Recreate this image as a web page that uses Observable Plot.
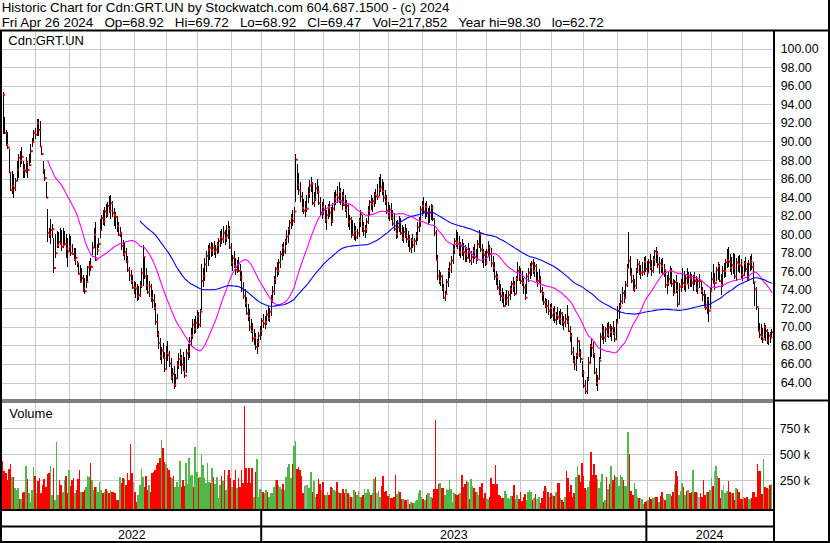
<!DOCTYPE html>
<html><head><meta charset="utf-8">
<script src="https://cdn.jsdelivr.net/npm/d3@7"></script>
<script src="https://cdn.jsdelivr.net/npm/@observablehq/plot@0.6"></script>
<style>
html,body{margin:0;padding:0;background:#fff;}
#wrap{position:relative;width:830px;height:543px;overflow:hidden;background:#fff;}
#wrap > div.p{position:absolute;left:0;}
#wrap svg{display:block;}
#ov{position:absolute;left:0;top:0;pointer-events:none;}
</style></head><body>
<div id="wrap">
  <div class="p" id="price" style="top:31.5px"></div>
  <div class="p" id="volume" style="top:402px"></div>
  <div class="p" id="years" style="top:511px"></div>
</div>
<script>
// ---------- data (daily bars, May 2 2022 – Apr 26 2024) ----------
const title1 = "Historic Chart for Cdn:GRT.UN by Stockwatch.com 604.687.1500 - (c) 2024";
const title2 = "Fri Apr 26 2024   Op=68.92   Hi=69.72   Lo=68.92   Cl=69.47   Vol=217,852   Year hi=98.30   lo=62.72";
const symbolLabel = "Cdn:GRT.UN";
const volumeLabel = "Volume";
const startDate = "2022-05-02";
const endDate = "2024-04-26";
const holidays = ["2022-05-23","2022-07-01","2022-08-01","2022-09-05","2022-10-10","2022-12-26","2022-12-27",
  "2023-01-02","2023-02-20","2023-04-07","2023-05-22","2023-07-03","2023-08-07","2023-09-04","2023-10-09",
  "2023-12-25","2023-12-26","2024-01-01","2024-02-19","2024-03-29"];
const priceTicks = [64,66,68,70,72,74,76,78,80,82,84,86,88,90,92,94,96,98,100];
const volTicks = [250000,500000,750000];

const hi = [95.3,92.6,91.2,91.0,89.2,86.7,86.8,86.5,86.1,87.9,
88.6,89.0,89.4,87.9,87.6,88.3,87.9,88.6,89.7,90.4,
91.2,91.5,92.4,92.4,92.2,89.5,87.9,87.0,85.6,82.7,
80.7,81.6,81.1,79.6,80.0,80.3,80.2,80.7,80.5,80.7,
80.3,80.0,79.6,80.0,79.8,78.9,78.5,78.5,77.1,76.9,
76.7,76.4,75.6,75.3,75.6,76.6,77.1,77.4,79.2,80.7,
81.3,78.9,79.6,81.6,82.1,82.6,82.9,83.3,83.5,84.1,
84.2,83.6,82.8,82.4,82.0,81.3,80.8,80.0,79.4,79.2,
78.5,77.6,76.5,76.1,75.6,75.0,74.8,74.6,74.4,74.9,
76.3,78.8,77.5,76.3,75.6,74.9,74.6,74.0,73.5,72.6,
71.4,69.6,68.8,67.8,68.3,67.3,67.9,68.5,67.4,66.6,
65.6,65.8,64.9,66.3,67.2,67.6,67.0,67.3,66.8,67.6,
68.2,68.9,69.9,70.8,70.9,71.2,71.8,71.6,71.9,76.8,
76.4,77.4,78.2,78.8,79.1,79.2,79.0,79.3,78.8,79.2,
79.6,80.3,80.6,80.9,80.5,81.0,81.4,80.9,79.0,77.8,
78.2,77.4,77.2,77.5,76.8,76.0,74.8,74.1,73.2,72.5,
71.9,70.8,70.4,69.8,69.3,68.7,69.5,70.1,71.0,71.4,
71.2,71.8,72.3,72.0,73.4,74.4,75.5,76.5,77.0,77.3,
78.2,78.9,79.2,79.5,80.4,80.8,81.5,82.2,82.6,82.9,
88.7,87.6,86.6,85.6,84.6,83.8,83.6,84.2,85.1,85.8,
86.2,85.6,84.5,85.5,86.0,85.2,84.0,83.5,83.8,83.2,
82.6,83.3,83.6,82.9,83.4,84.5,84.8,85.2,85.6,85.0,
84.6,84.9,84.2,83.7,83.3,82.1,81.9,81.5,81.2,80.9,
80.6,81.8,82.6,82.1,81.3,81.0,81.8,83.0,83.7,84.2,
83.9,84.6,84.9,85.4,86.2,86.5,86.0,85.6,84.8,84.2,
83.5,83.1,83.4,82.6,82.3,81.4,81.5,82.0,81.8,81.0,
80.8,81.1,80.7,80.3,79.9,79.6,80.0,79.6,80.2,81.3,
81.9,83.0,83.6,84.0,83.4,83.6,82.8,83.0,83.3,83.1,
81.5,80.4,77.8,76.1,75.9,75.6,74.6,73.9,75.2,76.3,
77.0,77.6,78.8,79.6,80.4,80.2,79.8,79.2,79.5,79.0,
78.8,78.6,79.0,78.5,78.2,78.6,78.9,78.4,79.4,80.4,
80.1,78.9,78.4,78.2,78.4,79.3,78.8,78.5,77.6,77.0,
76.0,75.7,75.1,74.6,74.2,73.8,73.6,74.0,73.9,74.4,
75.0,75.4,75.0,75.5,77.0,76.6,76.4,76.0,75.3,74.6,
75.8,76.4,76.9,77.1,77.3,77.0,76.8,75.9,76.2,75.5,
74.3,73.8,73.1,73.0,72.9,72.5,72.6,72.0,72.2,71.6,
72.1,71.7,71.9,71.6,71.2,71.4,72.4,71.2,70.1,69.3,
67.8,66.9,67.2,68.9,68.6,67.6,66.3,65.4,64.3,64.6,
66.8,68.2,68.7,68.4,67.2,65.6,64.8,66.7,69.3,70.3,
70.1,70.0,70.4,70.5,70.3,70.1,70.6,70.0,70.8,72.2,
72.6,73.5,74.3,74.0,75.0,76.8,80.2,77.6,76.4,75.6,
75.2,76.4,77.3,77.1,76.7,77.0,77.5,77.6,77.1,77.3,
77.9,77.2,77.6,78.3,78.6,78.2,77.5,77.3,77.4,76.8,
76.2,75.6,75.9,76.6,76.4,75.2,75.1,75.6,74.8,74.7,
75.2,76.3,76.0,75.7,76.4,75.9,75.9,75.7,75.6,75.9,
75.5,75.2,75.7,75.1,74.3,74.0,73.6,73.2,73.2,74.3,
75.9,76.8,75.8,76.5,77.0,76.8,75.7,76.6,76.9,77.3,
78.4,78.6,77.9,77.5,78.0,77.9,77.4,77.6,77.8,77.3,
76.6,77.1,77.5,76.9,77.2,77.7,77.9,77.0,75.0,74.3,
72.0,70.4,70.3,69.9,70.4,70.2,69.8,69.5,69.4,69.72];

const lo = [90.8,90.8,89.5,89.2,86.6,84.7,84.3,83.9,84.7,85.7,
86.1,87.2,87.6,86.1,86.1,86.6,86.1,87.4,87.7,89.4,
90.1,90.3,90.6,90.6,89.4,88.5,86.5,85.7,83.9,79.2,
79.6,78.9,79.6,75.8,77.4,78.5,78.5,78.8,78.2,78.5,
78.9,77.4,76.5,78.2,77.6,77.8,77.1,76.7,76.5,75.6,
74.7,74.9,73.8,73.5,74.2,74.9,75.5,76.0,77.8,78.5,
77.1,77.8,78.5,79.6,80.3,81.0,80.9,81.8,81.9,82.3,
81.6,81.9,80.9,80.6,80.2,79.8,79.7,78.3,77.6,77.2,
76.9,75.9,75.0,74.6,74.1,73.5,73.1,72.8,72.9,73.2,
74.2,74.4,75.2,74.0,73.5,73.2,72.7,72.0,71.8,70.2,
68.9,67.6,66.4,66.0,66.5,65.1,65.4,66.3,65.7,64.3,
63.9,63.3,63.5,64.4,65.5,65.8,64.9,65.2,64.5,65.0,
66.4,66.6,67.9,68.7,69.2,69.3,69.8,69.9,70.0,71.8,
74.3,74.9,75.9,76.6,77.2,77.5,77.6,77.8,77.4,77.9,
78.0,78.6,78.9,79.0,78.8,79.2,79.5,78.4,76.6,76.0,
76.3,75.6,75.8,75.9,75.0,73.8,73.0,72.1,71.3,70.6,
69.6,69.3,68.4,68.0,67.5,67.1,67.8,68.6,69.0,69.9,
69.8,70.2,70.6,70.5,71.2,72.6,73.4,74.6,75.4,75.6,
76.4,77.2,77.6,77.9,78.8,79.1,79.9,80.6,80.9,81.2,
83.5,84.8,84.2,83.5,82.4,82.2,81.9,82.4,83.4,83.9,
84.5,83.2,82.9,83.6,84.3,83.1,82.0,81.6,82.1,81.2,
80.5,81.6,81.9,80.9,81.2,82.5,83.1,83.4,83.4,83.2,
82.6,83.0,82.4,81.8,80.8,80.5,79.6,79.8,79.4,79.3,
79.5,79.7,80.8,80.2,79.8,79.6,80.1,81.1,82.0,82.6,
82.4,82.9,83.3,83.7,84.1,84.6,84.2,83.5,83.2,82.2,
81.6,81.4,81.5,80.9,80.3,79.5,79.6,80.2,79.9,79.3,
79.0,79.6,79.0,78.6,78.1,78.0,78.5,78.1,78.8,79.3,
80.2,80.8,82.0,82.2,81.6,81.9,81.0,81.2,81.5,81.4,
79.8,77.1,75.1,74.6,74.4,73.9,73.0,72.8,73.4,74.3,
75.3,75.8,76.8,77.9,78.6,78.4,77.7,77.4,77.7,77.2,
77.0,77.0,77.3,76.9,76.7,76.9,77.3,76.8,77.1,78.5,
78.1,76.9,76.4,76.6,76.7,77.5,77.1,76.5,75.9,75.1,
74.5,74.0,73.4,72.8,72.6,72.1,72.1,72.4,72.3,72.9,
73.5,73.8,73.3,73.5,75.0,75.0,74.6,74.4,73.6,72.9,
73.5,74.8,75.2,75.5,75.7,75.4,74.8,74.3,74.7,73.7,
72.8,72.4,72.0,71.5,71.3,70.9,71.0,70.6,70.4,70.2,
70.7,70.3,70.2,70.1,69.7,70.0,70.3,69.4,68.4,67.0,
66.1,65.3,65.2,66.5,66.7,66.1,64.6,63.4,62.8,62.72,
64.2,66.0,66.8,66.6,64.9,63.6,63.1,64.3,66.5,68.6,
68.2,68.4,68.9,68.8,68.9,68.5,69.1,68.4,68.6,70.4,
70.9,71.9,72.5,72.6,73.0,74.3,76.4,75.5,74.7,73.9,
73.8,74.1,75.8,75.6,75.2,75.5,75.6,75.9,75.4,75.8,
76.1,75.5,75.8,76.6,76.9,76.4,75.7,75.8,75.7,75.4,
74.2,73.6,74.4,74.6,74.3,73.3,73.5,73.7,72.1,72.4,
73.8,74.2,74.0,73.8,74.6,74.1,74.3,74.3,73.9,74.5,
73.8,73.6,74.2,73.5,72.8,72.0,71.8,71.4,70.5,71.9,
73.8,74.6,74.0,74.9,75.1,74.8,73.4,74.3,75.3,75.4,
76.3,76.5,75.9,75.6,75.7,75.2,75.0,75.9,75.8,75.3,
75.0,75.5,75.9,74.9,75.1,76.0,76.1,74.6,72.2,71.8,
69.4,68.8,68.6,68.3,68.8,68.5,68.2,68.0,68.3,68.92];

const cl = [95.1,91.0,89.7,89.4,86.7,84.8,85.3,85.0,85.8,87.0,
88.3,88.0,88.4,87.0,86.9,87.8,87.0,87.5,89.0,90.0,
91.0,90.8,92.0,91.3,89.5,88.7,87.0,86.1,84.0,80.2,
80.0,80.5,80.6,76.4,78.0,78.9,79.2,79.0,78.7,78.9,
79.0,78.5,78.2,78.7,78.0,77.9,77.3,77.5,76.9,75.8,
74.9,75.3,74.2,73.9,74.9,76.5,76.7,76.5,78.6,80.0,
77.3,78.3,79.0,80.5,81.8,81.4,82.5,82.2,83.1,82.6,
83.4,82.3,82.1,81.9,80.9,80.0,80.2,78.8,77.9,78.1,
77.1,76.2,75.6,75.0,74.3,74.3,74.2,73.4,73.5,74.5,
75.9,77.6,75.5,74.6,73.8,74.4,73.2,72.9,72.1,70.6,
69.3,68.3,66.9,67.5,66.7,65.5,67.2,67.0,66.1,64.6,
65.0,63.8,64.5,65.9,66.6,66.7,66.0,65.3,64.8,67.2,
67.4,68.5,69.1,70.3,69.8,70.5,71.2,70.3,71.7,75.0,
75.5,76.8,77.7,78.4,78.6,78.3,78.6,78.2,78.4,78.9,
79.3,79.7,79.5,80.2,79.6,79.9,80.6,78.6,77.0,77.5,
76.6,76.2,76.8,76.1,75.4,74.2,73.4,72.6,71.5,71.2,
70.0,69.6,68.8,68.9,67.9,68.4,69.1,69.6,70.7,70.4,
70.6,71.4,71.0,71.7,73.0,73.9,75.2,76.3,76.1,77.0,
77.9,78.6,78.2,79.3,79.8,80.6,81.3,81.8,81.5,82.5,
88.1,85.4,84.8,84.1,82.9,82.6,82.8,82.8,84.4,85.3,
85.5,83.4,83.8,85.0,84.6,83.4,82.4,83.0,82.7,81.6,
82.1,82.9,82.4,81.5,82.8,83.8,84.3,84.0,84.6,83.6,
84.2,83.2,82.7,83.1,81.4,81.7,80.0,80.0,80.4,79.7,
80.2,81.5,82.2,80.9,80.4,80.6,81.4,82.6,83.5,83.3,
83.6,84.3,84.1,84.1,84.9,85.1,84.7,84.0,83.6,82.6,
82.0,82.7,81.8,81.2,80.6,80.1,80.8,81.3,80.2,79.6,
80.3,79.9,79.5,79.5,78.5,79.4,78.9,79.3,79.8,80.8,
81.4,82.7,83.1,82.5,83.0,82.3,82.4,82.4,82.9,81.7,
80.2,77.3,75.5,75.0,75.5,74.2,73.2,73.6,74.9,76.1,
76.8,77.2,78.4,79.3,79.2,79.0,78.1,78.8,78.2,78.1,
77.9,77.5,78.1,77.2,77.6,78.2,77.6,77.3,79.0,80.0,
78.4,78.1,77.8,77.0,78.1,78.6,77.9,76.9,76.4,75.5,
75.4,74.3,73.8,73.4,73.2,72.3,72.8,73.2,73.5,74.1,
74.7,74.5,73.6,75.2,76.1,75.4,75.0,74.8,74.3,73.2,
75.5,75.9,76.5,76.9,76.1,76.6,75.0,75.0,75.1,73.9,
73.6,72.7,72.3,72.3,71.8,72.1,71.3,71.6,70.8,71.3,
71.1,70.9,71.5,70.6,70.5,70.9,70.6,69.6,69.1,67.3,
66.4,66.0,67.0,68.5,67.3,66.6,65.1,63.7,63.1,64.4,
66.2,68.0,67.8,67.1,65.1,64.0,64.5,66.4,69.0,69.6,
68.9,69.8,69.2,70.0,69.5,69.9,69.4,68.7,70.5,71.8,
72.3,72.8,73.7,73.2,74.6,76.4,77.2,75.7,75.0,74.1,
74.5,76.2,76.8,75.9,75.9,76.0,77.1,76.3,75.9,77.0,
76.5,76.1,77.3,78.2,77.9,76.8,76.9,76.6,75.8,76.2,
74.6,74.8,75.2,76.1,74.7,73.7,74.9,74.0,72.5,74.4,
74.5,74.8,74.6,75.3,74.7,75.4,75.3,74.8,75.2,75.0,
74.2,75.0,75.0,73.9,73.5,72.2,72.1,73.0,71.8,74.0,
75.2,74.8,74.8,76.2,76.6,75.0,74.6,76.1,76.1,77.0,
77.3,77.1,76.4,76.7,76.4,75.5,77.0,76.8,76.7,75.7,
75.6,76.9,76.3,75.2,76.8,77.1,76.5,74.9,74.1,72.2,
69.6,69.2,69.0,68.7,70.0,69.6,68.6,69.1,68.9,69.47];

// daily volume, thousands of units
const volK = [440,340,325,253,360,405,280,285,180,157,
180,67,67,125,140,388,260,125,45,157,
375,290,130,245,270,130,205,260,190,310,
317,388,110,365,60,620,110,253,205,140,
253,290,125,349,195,253,270,125,157,260,
349,140,140,157,190,290,285,418,253,157,
190,183,140,237,157,125,140,163,150,130,
157,140,140,130,60,60,285,221,270,260,
205,323,253,600,323,237,140,40,110,205,
355,285,190,290,157,205,140,323,333,349,
397,413,460,637,557,429,405,365,349,280,
275,290,190,237,189,440,183,253,195,413,
215,460,290,300,190,567,333,270,285,493,
397,270,221,413,237,221,365,285,215,285,
77,205,290,245,349,157,300,349,270,183,
253,349,173,270,189,349,227,967,365,221,
365,221,365,93,333,451,93,163,157,140,
125,157,140,93,125,130,189,253,253,205,
189,163,215,157,280,375,405,275,407,580,
628,355,381,349,291,125,195,205,205,180,
330,140,245,93,120,260,215,157,235,110,
110,140,110,189,180,160,150,235,140,125,
125,165,125,165,125,110,93,93,157,140,
110,150,93,87,110,165,125,165,140,110,
130,260,278,130,150,93,195,290,140,150,
100,120,77,77,87,300,120,150,140,67,
70,61,65,67,22,45,35,35,51,61,
125,157,93,70,61,110,130,125,87,77,
165,830,163,215,220,173,180,110,163,157,
253,163,45,125,118,110,118,125,300,182,
215,247,237,70,262,200,173,135,135,110,
182,221,77,125,77,70,90,269,215,215,
397,215,110,100,77,77,147,120,77,70,
100,100,205,70,110,70,140,54,90,118,
61,140,157,140,61,83,118,70,90,35,
83,150,195,179,141,93,131,109,100,138,
227,227,83,60,45,87,342,269,141,205,
87,125,285,388,300,237,413,291,173,157,
189,240,519,301,407,301,259,173,237,311,
45,61,279,163,215,388,250,301,279,285,
199,301,279,253,195,200,711,503,150,109,
221,166,93,80,77,67,22,40,50,61,
87,67,77,87,87,87,45,100,134,80,
61,115,115,115,103,134,215,339,291,109,
150,221,189,109,150,157,131,141,349,141,
141,131,87,125,87,253,109,141,141,157,
269,200,342,388,291,269,83,157,205,125,
150,243,140,131,131,61,173,163,141,70,
70,93,77,90,67,67,77,141,141,93,
407,339,342,120,452,182,173,163,205,217.852];

// ---------- derived tables ----------
const hset = new Set(holidays);
const fmtDay = d3.utcFormat("%Y-%m-%d");
const days = d3.utcDay.range(new Date(startDate + "T00:00Z"), d3.utcDay.offset(new Date(endDate + "T00:00Z"), 1))
  .filter(d => d.getUTCDay() % 6 !== 0 && !hset.has(fmtDay(d)));
const n = cl.length;
const bars = cl.map((c, i) => ({
  i, hi: hi[i], lo: lo[i], cl: c, vol: volK[i] * 1000,
  col: i === 0 ? "#ff0000" : c > cl[i - 1] ? "#4fb848" : c < cl[i - 1] ? "#ff0000" : "#a8a8a8"
}));
const ma = k => cl.map((_, i) => ({i, v: i < k - 1 ? NaN : d3.mean(cl.slice(i - k + 1, i + 1))}));
const ma30 = ma(30), ma90 = ma(90);
const monthStarts = [], yearStarts = [];
for (let i = 1; i < Math.min(days.length, n); i++) {
  if (days[i].getUTCMonth() !== days[i - 1].getUTCMonth()) monthStarts.push(i);
  if (days[i].getUTCFullYear() !== days[i - 1].getUTCFullYear()) yearStarts.push(i);
}
const yearLabels = [];
{
  const bounds = [-0.5, ...yearStarts.map(i => i - 0.5), n - 0.5];
  for (let k = 0; k < bounds.length - 1; k++) {
    const first = Math.ceil(bounds[k]);
    yearLabels.push({label: String(days[Math.min(first, days.length - 1)].getUTCFullYear()), mid: (bounds[k] + bounds[k + 1]) / 2});
  }
}

// ---------- common plot settings ----------
const FONT = "Arial, 'Liberation Sans', Helvetica, sans-serif";
const common = {
  width: 830, marginLeft: 1.88, marginRight: 57.8, marginTop: 0, marginBottom: 0,
  x: {domain: [-0.5, n - 0.5], axis: null},
  style: {background: "transparent", fontFamily: FONT, fontSize: "12.4px", color: "#000", overflow: "visible"}
};
const GRID = "#c8c8c8";

const price = Plot.plot({
  ...common, height: 368,
  y: {domain: [64, 100], range: [350.5, 16.8], axis: null},
  marks: [
    Plot.gridX(monthStarts, {stroke: GRID, strokeOpacity: 1, shapeRendering: "crispEdges"}),
    Plot.gridY(priceTicks, {stroke: GRID, strokeOpacity: 1, shapeRendering: "crispEdges"}),
    Plot.ruleX(bars, {x: "i", y1: "lo", y2: "hi", stroke: "#000", strokeWidth: 1, shapeRendering: "crispEdges"}),
    Plot.dot(bars, {x: "i", y: "cl", dx: 1, symbol: "square", r: 1.13, fill: "#ff0000", stroke: "none"}),
    Plot.line(ma30, {x: "i", y: "v", stroke: "#ff00ff", strokeWidth: 1.1}),
    Plot.line(ma90, {x: "i", y: "v", stroke: "#0000ff", strokeWidth: 1.1}),
    Plot.axisY(priceTicks, {anchor: "right", tickSize: 0, tickPadding: 8, tickFormat: d => d.toFixed(2), label: null, fill: "#000"})
  ]
});
document.getElementById("price").append(price);

const volume = Plot.plot({
  ...common, height: 107,
  y: {domain: [0, 750000], range: [104.3, 26.3], axis: null},
  color: {type: "identity"},
  marks: [
    Plot.gridX(monthStarts, {stroke: GRID, strokeOpacity: 1, shapeRendering: "crispEdges"}),
    Plot.gridY(volTicks, {stroke: GRID, strokeOpacity: 1, shapeRendering: "crispEdges"}),
    Plot.rect(bars, {x1: d => d.i - 0.5, x2: d => d.i + 0.5, y1: 0, y2: "vol", insetBottom: -2.7, fill: "col", shapeRendering: "crispEdges"}),
    Plot.axisY(volTicks, {anchor: "right", tickSize: 0, tickPadding: 7, tickFormat: d => `${d / 1000} k`, label: null, fill: "#000"})
  ]
});
document.getElementById("volume").append(volume);

const years = Plot.plot({
  ...common, height: 30,
  marks: [
    Plot.ruleX(yearStarts, {x: d => d - 0.5, stroke: "#000", strokeWidth: 2}),
    Plot.text(yearLabels, {x: "mid", text: "label", frameAnchor: "bottom", lineAnchor: "bottom", dy: -2.5, fill: "#000", fontSize: 12.4})
  ]
});
document.getElementById("years").append(years);

// ---------- frame & labels overlay ----------
const NS = "http://www.w3.org/2000/svg";
const ov = d3.select("#wrap").append("svg").attr("id", "ov").attr("width", 830).attr("height", 543)
  .attr("xmlns", NS).style("font-family", FONT);
const box = (x, y, w, h) => ov.append("rect").attr("x", x).attr("y", y).attr("width", w).attr("height", h).attr("fill", "#000");
box(0, 29.5, 830, 2);      // header rule
box(828, 0, 2, 543);       // right edge
box(0, 31, 2, 512);        // left edge
box(773, 31, 2, 512);      // plot / axis divider
box(0, 399.5, 773, 1);     // price panel bottom
box(0, 401.5, 773, 1);     // volume panel top
box(775, 399.5, 53, 2);
box(0, 509, 775, 2);       // volume baseline
box(0, 525.5, 775, 2);
box(0, 541, 830, 2);       // bottom
const txt = (s, x, y, size) => ov.append("text").attr("x", x).attr("y", y).attr("font-size", size)
  .attr("xml:space", "preserve").style("white-space", "pre").attr("fill", "#000").text(s);
txt(title1, 1.7, 12.3, 13.4);
txt(title2, 1.7, 27.3, 13.4);
txt(symbolLabel, 8.3, 45, 13);
txt(volumeLabel, 9.3, 417.7, 13);
</script>
</body></html>
